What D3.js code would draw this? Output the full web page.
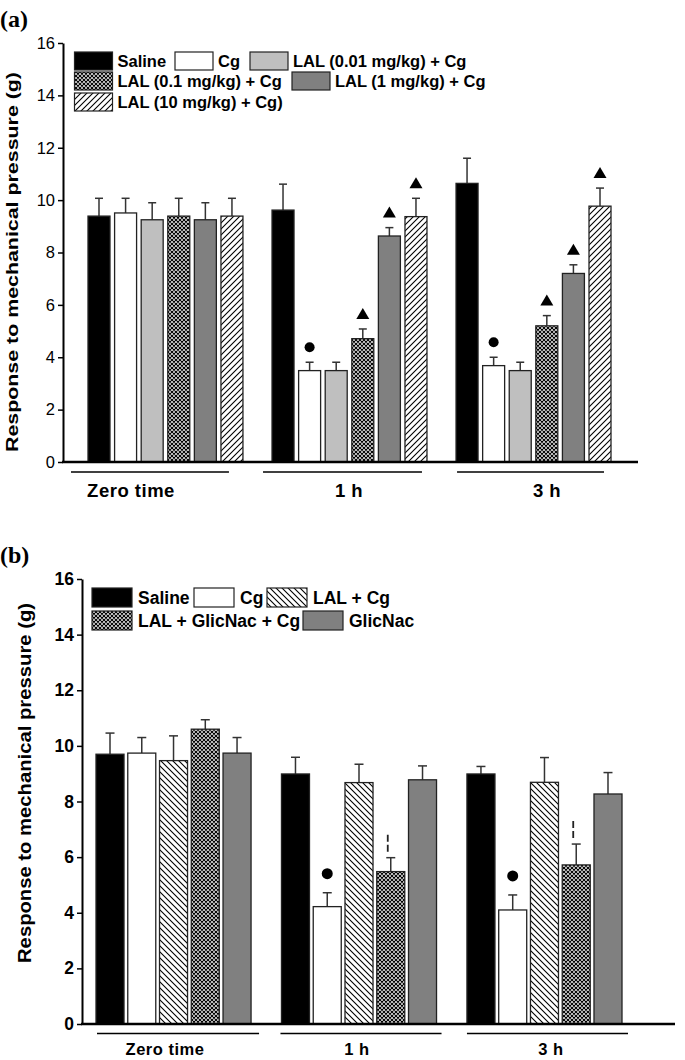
<!DOCTYPE html>
<html><head><meta charset="utf-8">
<script src="https://cdn.jsdelivr.net/npm/d3@7"></script>
<style>body{margin:0;background:#fff} svg{display:block}</style>
</head><body><svg id="c" width="685" height="1060"></svg>
<script>
// ---------- DATA ----------
const timepoints = ["Zero time", "1 h", "3 h"];
const yTickValues = [0, 2, 4, 6, 8, 10, 12, 14, 16];
const yTickLabels = ["0", "2", "4", "6", "8", "10", "12", "14", "16"];
const yTitle = "Response to mechanical pressure (g)";

// Panel (a)
const seriesA = ["Saline", "Cg", "LAL (0.01 mg/kg) + Cg", "LAL (0.1 mg/kg) + Cg", "LAL (1 mg/kg) + Cg", "LAL (10 mg/kg) + Cg)"];
const a_saline  = [9.39, 9.62, 10.64];
const a_cg      = [9.51, 3.49, 3.68];
const a_lal001  = [9.25, 3.49, 3.49];
const a_lal01   = [9.39, 4.71, 5.20];
const a_lal1    = [9.25, 8.63, 7.20];
const a_lal10   = [9.39, 9.37, 9.77];
const a_saline_sem = [0.68, 0.99, 0.96];
const a_cg_sem     = [0.56, 0.32, 0.32];
const a_lal001_sem = [0.65, 0.32, 0.32];
const a_lal01_sem  = [0.68, 0.37, 0.39];
const a_lal1_sem   = [0.65, 0.32, 0.33];
const a_lal10_sem  = [0.68, 0.70, 0.69];
const a_cg_sig     = [null, "dot", "dot"];
const a_lal01_sig  = [null, "tri", "tri"];
const a_lal1_sig   = [null, "tri", "tri"];
const a_lal10_sig  = [null, "tri", "tri"];

// Panel (b)
const seriesB = ["Saline", "Cg", "LAL + Cg", "LAL + GlicNac + Cg", "GlicNac"];
const b_saline  = [9.70, 8.99, 8.99];
const b_cg      = [9.74, 4.22, 4.10];
const b_lalcg   = [9.47, 8.68, 8.69];
const b_lalglic = [10.60, 5.48, 5.72];
const b_glic    = [9.74, 8.78, 8.27];
const b_saline_sem  = [0.76, 0.60, 0.27];
const b_cg_sem      = [0.56, 0.50, 0.54];
const b_lalcg_sem   = [0.89, 0.66, 0.89];
const b_lalglic_sem = [0.34, 0.50, 0.75];
const b_glic_sem    = [0.56, 0.50, 0.77];
const b_cg_sig      = [null, "dot", "dot"];
const b_lalglic_sig = [null, "dash", "dash"];

// ---------- STYLE / LAYOUT ----------
const svg = d3.select("#c");
const defs = svg.append("defs");
function pattern(id, size, d, sw) {
  const p = defs.append("pattern").attr("id", id).attr("patternUnits", "userSpaceOnUse")
    .attr("width", size).attr("height", size);
  p.append("rect").attr("width", size).attr("height", size).attr("fill", "#fff");
  p.append("path").attr("d", d).attr("stroke", "#000").attr("stroke-width", sw).attr("fill", "none");
}
pattern("cross", 4, "M0,0L4,4M4,0L0,4M-1,1L1,-1M3,5L5,3M-1,3L1,5M3,-1L5,1", 1.15);
pattern("fwd", 6, "M-1,1L1,-1M0,6L6,0M5,7L7,5", 1.1);
pattern("back", 6, "M-1,5L1,7M0,0L6,6M5,-1L7,1", 1.1);

const sans = "'Liberation Sans',Arial,Helvetica,sans-serif";

const panelA = {
  label: "(a)", labelY: 27,
  series: seriesA,
  values: [a_saline, a_cg, a_lal001, a_lal01, a_lal1, a_lal10],
  sems: [a_saline_sem, a_cg_sem, a_lal001_sem, a_lal01_sem, a_lal1_sem, a_lal10_sem],
  sigs: [null, a_cg_sig, null, a_lal01_sig, a_lal1_sig, a_lal10_sig],
  fills: ["#000", "#fff", "#bfbfbf", "url(#cross)", "#808080", "url(#fwd)"],
  ax: 63, y0: 462, y16: 43, gx0: 88, gx1: 611, gpad: 0.158, bpad: 0.173, xEnd: 638,
  tickWeight: "normal", tickSize: 16.5,
  titleX: 18, titleY: 262, titleSize: 17, titleLen: 380,
  catSize: 18.5, catY: 497, lineY: 472,
  lineOff: [[-17, -14], [-9, -5], [1, -7]], catX: [131, 349, 547],
  cap: 4, sigGap: 15, dot: 5,
  legSize: 16.5, swW: 38, swH: 18,
  legend: [[0, 74.5, 52], [1, 175, 52], [2, 250, 52], [3, 74.5, 72], [4, 292, 72], [5, 74.5, 93]],
  textDx: 5, textDy: 14.5
};
const panelB = {
  label: "(b)", labelY: 563,
  series: seriesB,
  values: [b_saline, b_cg, b_lalcg, b_lalglic, b_glic],
  sems: [b_saline_sem, b_cg_sem, b_lalcg_sem, b_lalglic_sem, b_glic_sem],
  sigs: [null, b_cg_sig, null, b_lalglic_sig, null],
  fills: ["#000", "#fff", "url(#back)", "url(#cross)", "#808080"],
  ax: 82, y0: 1024, y16: 579, gx0: 96, gx1: 622, gpad: 0.164, bpad: 0.118, xEnd: 675,
  tickWeight: "bold", tickSize: 17.5,
  titleX: 31, titleY: 783, titleSize: 19, titleLen: 360,
  catSize: 16.5, catY: 1055, lineY: 1033.5,
  lineOff: [[1, 8], [-1, 5], [0, 6]], catX: [165, 357, 551],
  cap: 4.5, sigGap: 19, dot: 5.5,
  legSize: 17.5, swW: 40, swH: 19,
  legend: [[0, 92, 588], [1, 194, 588], [2, 267, 588], [3, 92, 611], [4, 303, 611]],
  textDx: 6, textDy: 15.5
};

function drawPanel(cfg) {
  const g = svg.append("g");
  const y = d3.scaleLinear().domain([0, 16]).range([cfg.y0, cfg.y16]);
  const x0 = d3.scaleBand().domain(timepoints).range([cfg.gx0, cfg.gx1]).paddingInner(cfg.gpad).paddingOuter(0);
  const x1 = d3.scaleBand().domain(d3.range(cfg.series.length)).range([0, x0.bandwidth()]).paddingInner(cfg.bpad).paddingOuter(0);
  const bw = x1.bandwidth();

  // panel label
  g.append("text").attr("x", 0).attr("y", cfg.labelY).text(cfg.label)
    .attr("font-family", "'Liberation Serif','Times New Roman',serif").attr("font-weight", "bold").attr("font-size", 24);

  // bars
  cfg.series.forEach((s, si) => {
    const vals = cfg.values[si], sems = cfg.sems[si], sig = cfg.sigs[si];
    timepoints.forEach((t, ti) => {
      const v = vals[ti], e = sems[ti];
      const bx = x0(t) + x1(si);
      const cx = bx + bw / 2;
      g.append("line").attr("x1", cx).attr("x2", cx).attr("y1", y(v)).attr("y2", y(v + e))
        .attr("stroke", "#333").attr("stroke-width", 1.5);
      g.append("line").attr("x1", cx - cfg.cap).attr("x2", cx + cfg.cap).attr("y1", y(v + e)).attr("y2", y(v + e))
        .attr("stroke", "#333").attr("stroke-width", 1.5);
      g.append("rect").attr("x", bx).attr("y", y(v)).attr("width", bw).attr("height", y(0) - y(v))
        .attr("fill", cfg.fills[si]).attr("stroke", "#222").attr("stroke-width", 1.3);
      if (sig && sig[ti]) {
        const my = y(v + e) - cfg.sigGap;
        if (sig[ti] === "dot") {
          g.append("circle").attr("cx", cx).attr("cy", my).attr("r", cfg.dot).attr("fill", "#000");
        } else if (sig[ti] === "tri") {
          g.append("path").attr("d", `M${cx},${my - 6}L${cx + 6.5},${my + 5}L${cx - 6.5},${my + 5}Z`).attr("fill", "#000");
        } else if (sig[ti] === "dash") {
          g.append("line").attr("x1", cx - 3).attr("x2", cx - 3).attr("y1", y(v + e) - 23).attr("y2", y(v + e) - 5)
            .attr("stroke", "#222").attr("stroke-width", 1.8).attr("stroke-dasharray", "7,3");
        }
      }
    });
  });

  // y axis
  const yAxis = g.append("g").attr("transform", `translate(${cfg.ax},0)`)
    .call(d3.axisLeft(y).tickValues(yTickValues).tickFormat((d, i) => yTickLabels[i]).tickSize(5).tickSizeOuter(0).tickPadding(3));
  yAxis.attr("font-family", sans).attr("font-size", cfg.tickSize);
  yAxis.select(".domain").attr("stroke", "#000").attr("stroke-width", 2);
  yAxis.selectAll(".tick line").attr("stroke", "#000").attr("stroke-width", 1.5);
  yAxis.selectAll(".tick text").attr("font-family", sans).attr("font-weight", cfg.tickWeight)
    .attr("font-size", cfg.tickSize).attr("fill", "#000");

  // x axis baseline
  g.append("line").attr("x1", cfg.ax - 1).attr("x2", cfg.xEnd).attr("y1", y(0)).attr("y2", y(0))
    .attr("stroke", "#000").attr("stroke-width", 2.5);

  // category underlines and labels
  timepoints.forEach((t, ti) => {
    g.append("line").attr("x1", x0(t) + cfg.lineOff[ti][0]).attr("x2", x0(t) + x0.bandwidth() + cfg.lineOff[ti][1])
      .attr("y1", cfg.lineY).attr("y2", cfg.lineY).attr("stroke", "#000").attr("stroke-width", 1.5);
    g.append("text").attr("x", cfg.catX[ti]).attr("y", cfg.catY).attr("text-anchor", "middle").text(t)
      .attr("font-family", sans).attr("font-weight", "bold").attr("font-size", cfg.catSize)
      .attr("letter-spacing", 0.5);
  });

  // y title
  g.append("text").attr("transform", `translate(${cfg.titleX},${cfg.titleY}) rotate(-90)`)
    .attr("text-anchor", "middle").text(yTitle)
    .attr("font-family", sans).attr("font-weight", "bold").attr("font-size", cfg.titleSize)
    .attr("textLength", cfg.titleLen).attr("lengthAdjust", "spacingAndGlyphs");

  // legend
  cfg.legend.forEach(([si, lx, ly]) => {
    g.append("rect").attr("x", lx).attr("y", ly).attr("width", cfg.swW).attr("height", cfg.swH)
      .attr("fill", cfg.fills[si]).attr("stroke", "#222").attr("stroke-width", 1.2);
    g.append("text").attr("x", lx + cfg.swW + cfg.textDx).attr("y", ly + cfg.textDy).text(cfg.series[si])
      .attr("font-family", sans).attr("font-weight", "bold").attr("font-size", cfg.legSize);
  });
}
drawPanel(panelA);
drawPanel(panelB);
</script></body></html>
